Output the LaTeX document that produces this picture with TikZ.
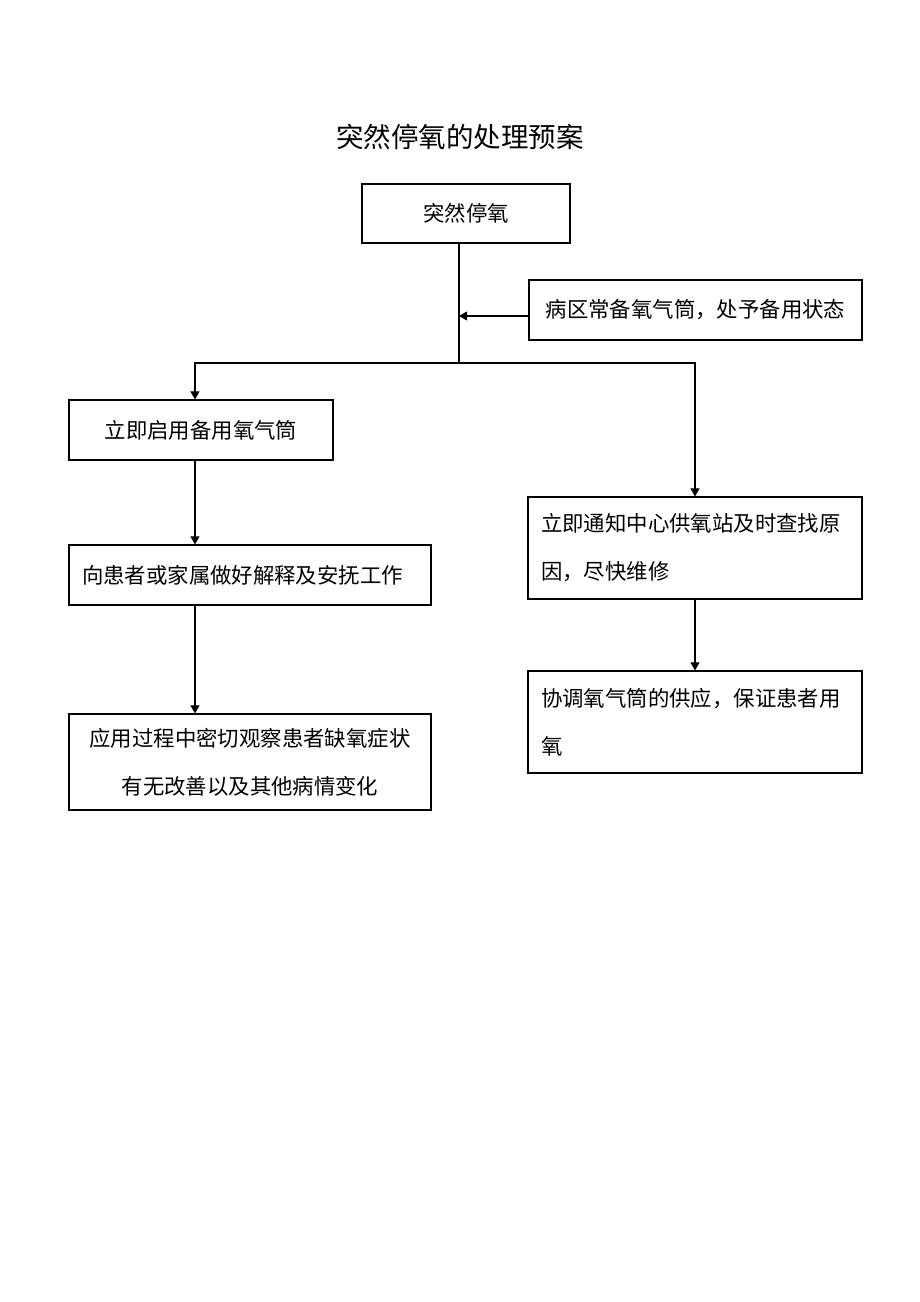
\documentclass[tikz,border=0pt]{standalone}
\usepackage{fontspec}
\setmainfont{Noto Sans CJK SC}
\usetikzlibrary{arrows}
\tikzset{
flowbox/.style={rectangle, draw, line width=1.2pt, inner sep=13pt, font=\fontsize{21.4}{48}\selectfont},
flowline/.style={line width=1.2pt},
every label/.style={rectangle, draw=none}
}
\begin{document}
\begin{tikzpicture}[x=1pt,y=-1pt]
\useasboundingbox (0,0) rectangle (920,1302);
\node [font=\fontsize{27.5}{30}\selectfont] (title) at (460,137) {突然停氧的处理预案};
\node [flowbox, minimum width=208pt, minimum height=59pt] (stop) at (466,213.5) {突然停氧};
\node [flowbox, minimum width=333pt, minimum height=60pt] (spare) at (695.5,310) {病区常备氧气筒，处予备用状态};
\node [flowbox, minimum width=264pt, minimum height=60pt] (use) at (201,430) {立即启用备用氧气筒};
\node [flowbox, minimum width=362pt, minimum height=60pt, text width=336pt, align=left] (explain) at (250,575) {向患者或家属做好解释及安抚工作};
\node [flowbox, minimum width=362pt, minimum height=96pt, align=center] (watch) at (250,762) {应用过程中密切观察患者缺氧症状\\有无改善以及其他病情变化};
\node [flowbox, minimum width=334pt, minimum height=102pt, text width=308pt, align=left] (notify) at (695,548) {立即通知中心供氧站及时查找原\\因，尽快维修};
\node [flowbox, minimum width=334pt, minimum height=102pt, text width=308pt, align=left] (supply) at (695,722) {协调氧气筒的供应，保证患者用\\氧};

\coordinate (split) at (459,363);
\coordinate (join) at (459,316);
\coordinate (lt) at (195,363);

\draw[flowline] (stop.south -| split) -- (split);
\draw[flowline,-triangle 60] (spare.west |- join) -- (join);
\draw[flowline,-triangle 60] (split) -- (lt) -- (lt |- use.north);
\draw[flowline,-triangle 60] (split) -| (notify.north);
\draw[flowline,-triangle 60] (lt |- use.south) -- (lt |- explain.north);
\draw[flowline,-triangle 60] (lt |- explain.south) -- (lt |- watch.north);
\draw[flowline,-triangle 60] (notify.south) -- (supply.north);
\end{tikzpicture}
\end{document}
